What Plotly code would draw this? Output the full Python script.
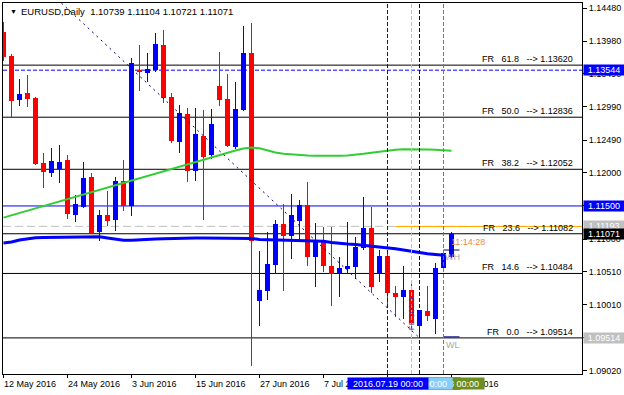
import plotly.graph_objects as go

# ---------------- data ----------------
idx = list(range(57))
tick_idx = [0, 8, 16, 24, 32, 40, 48, 56]
tick_labels = ["12 May 2016", "24 May 2016", "3 Jun 2016", "15 Jun 2016",
               "27 Jun 2016", "7 Jul 2016", "19 Jul 2016", "29 Jul 2016"]

opens = [1.14114, 1.13757, 1.13095, 1.13200, 1.13130, 1.12147, 1.12001, 1.12057, 1.12192, 1.11364,
         1.11484, 1.11936, 1.11108, 1.11364, 1.11289, 1.11876, 1.11500, 1.13547, 1.13502, 1.13542,
         1.13919, 1.13136, 1.12467, 1.12880, 1.12031, 1.12558, 1.12263, 1.13306, 1.13110, 1.12392,
         1.12945, 1.13807, 1.10074, 1.10225, 1.10611, 1.11229, 1.11052, 1.11274, 1.11515, 1.10736,
         1.10988, 1.10596, 1.10476, 1.10551, 1.10586, 1.10867, 1.11173, 1.10476, 1.10747, 1.10185,
         1.10125, 1.10235, 1.09698, 1.09919, 1.09799, 1.10561, 1.10739]
highs = [1.14274, 1.13788, 1.13411, 1.13471, 1.13145, 1.12297, 1.12373, 1.12418, 1.12267, 1.11665,
         1.12162, 1.11996, 1.11439, 1.11725, 1.11936, 1.12192, 1.13727, 1.13923, 1.13803, 1.14108,
         1.14149, 1.13200, 1.13015, 1.12975, 1.12975, 1.12945, 1.12964, 1.13822, 1.13487, 1.13366,
         1.14209, 1.14259, 1.10822, 1.11108, 1.11289, 1.11530, 1.11680, 1.11590, 1.11861, 1.11248,
         1.11179, 1.11179, 1.10732, 1.11259, 1.11028, 1.11635, 1.11484, 1.10837, 1.10777, 1.10295,
         1.10596, 1.10360, 1.09934, 1.10295, 1.10641, 1.10837, 1.11104]
lows = [1.13687, 1.12820, 1.13005, 1.12994, 1.12117, 1.11775, 1.11941, 1.11846, 1.11304, 1.11263,
        1.11465, 1.11078, 1.10973, 1.11198, 1.11123, 1.11424, 1.11349, 1.13231, 1.13366, 1.13521,
        1.13045, 1.12443, 1.12302, 1.11865, 1.11880, 1.11289, 1.12203, 1.13005, 1.12388, 1.12362,
        1.12930, 1.09096, 1.09698, 1.10085, 1.10476, 1.10225, 1.10702, 1.10988, 1.10601, 1.10276,
        1.10511, 1.09999, 1.10130, 1.10476, 1.10401, 1.10837, 1.10194, 1.10356, 1.09984, 1.09830,
        1.09794, 1.09633, 1.09514, 1.09773, 1.09573, 1.10536, 1.10721]
closes = [1.13747, 1.13085, 1.13185, 1.13110, 1.12132, 1.12011, 1.12177, 1.12162, 1.11384, 1.11534,
          1.11921, 1.11093, 1.11364, 1.11274, 1.11876, 1.11500, 1.13652, 1.13517, 1.13562, 1.13943,
          1.13130, 1.12482, 1.12895, 1.12031, 1.12579, 1.12233, 1.12734, 1.13100, 1.12398, 1.12960,
          1.13807, 1.10977, 1.10235, 1.10626, 1.11229, 1.11052, 1.11364, 1.11515, 1.10736, 1.10988,
          1.10601, 1.10476, 1.10566, 1.10596, 1.10882, 1.11173, 1.10285, 1.10747, 1.10185, 1.10125,
          1.10235, 1.09743, 1.09934, 1.09848, 1.10566, 1.10792, 1.11071]

ma_green = [1.11325, 1.11360, 1.11394, 1.11430, 1.11465, 1.11500, 1.11534, 1.11570, 1.11605, 1.11640,
            1.11674, 1.11710, 1.11745, 1.11780, 1.11816, 1.11850, 1.11885, 1.11920, 1.11954, 1.11989,
            1.12023, 1.12058, 1.12093, 1.12127, 1.12162, 1.12196, 1.12231, 1.12266, 1.12300, 1.12335,
            1.12365, 1.12380, 1.12368, 1.12335, 1.12305, 1.12285, 1.12275, 1.12267, 1.12261, 1.12257,
            1.12255, 1.12255, 1.12257, 1.12261, 1.12270, 1.12285, 1.12302, 1.12318, 1.12332, 1.12347,
            1.12353, 1.12355, 1.12353, 1.12350, 1.12346, 1.12339, 1.12330]
ma_blue = [1.10943, 1.10958, 1.10988, 1.11010, 1.11022, 1.11025, 1.11028, 1.11031, 1.11033, 1.11036,
           1.11037, 1.11037, 1.11037, 1.11018, 1.10995, 1.10983, 1.10983, 1.10992, 1.11000, 1.11003,
           1.11007, 1.11012, 1.11016, 1.11018, 1.11018, 1.11018, 1.11018, 1.11018, 1.11018, 1.11018,
           1.11018, 1.11010, 1.10995, 1.10992, 1.10991, 1.10988, 1.10988, 1.10983, 1.10980, 1.10975,
           1.10968, 1.10950, 1.10935, 1.10927, 1.10920, 1.10909, 1.10897, 1.10882, 1.10870, 1.10855,
           1.10837, 1.10814, 1.10799, 1.10780, 1.10766, 1.10757]

fr_levels = [61.8, 50.0, 38.2, 23.6, 14.6, 0.0]
fr_values = [1.13620, 1.12836, 1.12052, 1.11082, 1.10484, 1.09514]
fib_anchor_idx = [-7, 52]
fib_anchor_val = [1.16158, 1.09514]

y_tick_vals = [1.14480, 1.13980, 1.13490, 1.12990, 1.12490, 1.12000,
               1.11500, 1.11000, 1.10510, 1.10010, 1.09520, 1.09020]
y_tick_text = ["%.5f" % v for v in y_tick_vals]

hline_blue_dash = 1.13544
hline_blue = 1.11500
hline_gray = 1.11193
orange_line = (49, 1.11190)
bid = 1.11071
week_high = 1.10837
week_low = 1.09530

vlines = [(48, "#0000FF", "2016.07.19 00:00"),
          (51, "#87CEFA", "2016.07.22 00:00"),
          (52, "#000080", "2016.07.25 00:00"),
          (55, "#6B8E23", "2016.07.28 00:00")]

# ---------------- figure ----------------
FONT = "Liberation Sans, Arial, sans-serif"
BLUE, RED = "#0000FF", "#FF0000"
colors = [BLUE if c >= o else RED for o, c in zip(opens, closes)]
MINH = 0.00015

fig = go.Figure()

# wicks
fig.add_trace(go.Bar(x=idx, base=lows, y=[h - l for h, l in zip(highs, lows)],
                     width=0.125, marker=dict(color=colors, line=dict(width=0)),
                     hoverinfo="skip", showlegend=False))
# bodies
fig.add_trace(go.Bar(x=idx, base=[min(o, c) for o, c in zip(opens, closes)],
                     y=[max(abs(c - o), MINH) for o, c in zip(opens, closes)],
                     width=0.625, marker=dict(color=colors, line=dict(width=0)),
                     hoverinfo="skip", showlegend=False))

# moving averages
fig.add_trace(go.Scatter(x=idx[:len(ma_green)], y=ma_green, mode="lines",
                         line=dict(color="#32CD32", width=2), hoverinfo="skip", showlegend=False))
fig.add_trace(go.Scatter(x=idx[:len(ma_blue)], y=ma_blue, mode="lines",
                         line=dict(color=BLUE, width=3), hoverinfo="skip", showlegend=False))

# fibo diagonal
fig.add_trace(go.Scatter(x=fib_anchor_idx, y=fib_anchor_val, mode="lines",
                         line=dict(color="#000080", width=1, dash="2px,4px"),
                         hoverinfo="skip", showlegend=False))

shapes = []
# horizontal lines (below candles)
for v in fr_values:
    shapes.append(dict(type="line", xref="paper", x0=0, x1=1, yref="y", y0=v, y1=v,
                       line=dict(color="black", width=1), layer="below"))
shapes.append(dict(type="line", xref="paper", x0=0, x1=1, yref="y", y0=bid, y1=bid,
                   line=dict(color="#C0C0C0", width=1), layer="below"))
shapes.append(dict(type="line", xref="paper", x0=0, x1=1, yref="y", y0=hline_blue_dash, y1=hline_blue_dash,
                   line=dict(color=BLUE, width=1, dash="4px,2px"), layer="below"))
shapes.append(dict(type="line", xref="paper", x0=0, x1=1, yref="y", y0=hline_blue, y1=hline_blue,
                   line=dict(color=BLUE, width=1), layer="below"))
shapes.append(dict(type="line", xref="paper", x0=0, x1=1, yref="y", y0=hline_gray, y1=hline_gray,
                   line=dict(color="#C0C0C0", width=1, dash="8px,4px"), layer="below"))
shapes.append(dict(type="line", xref="x", x0=orange_line[0], x1=80, yref="y",
                   y0=orange_line[1], y1=orange_line[1],
                   line=dict(color="#FFA500", width=1), layer="below"))
# week high / low markers
for v in (week_high, week_low):
    shapes.append(dict(type="line", xref="x", x0=55, x1=57, yref="y", y0=v, y1=v,
                       line=dict(color="#000080", width=1), layer="above"))
# vertical dashed lines
for xi, col, _ in vlines:
    shapes.append(dict(type="line", xref="x", x0=xi, x1=xi, yref="paper", y0=0, y1=1,
                       line=dict(color=col, width=1, dash="4px,2px"), layer="above"))

ann = []
# title
ann.append(dict(xref="paper", yref="paper", x=0, y=1, xanchor="left", yanchor="middle",
                xshift=5, yshift=-8, text="▼", showarrow=False,
                font=dict(family=FONT, size=7, color="black")))
ann.append(dict(xref="paper", yref="paper", x=0, y=1, xanchor="left", yanchor="middle",
                xshift=16, yshift=-8,
                text="EURUSD,Daily\u00a0\u00a01.10739 1.11104 1.10721 1.11071", showarrow=False,
                font=dict(family=FONT, size=9.5, color="black")))
# fibo labels
for lvl, v in zip(fr_levels, fr_values):
    ann.append(dict(xref="paper", yref="y", x=1, y=v, xanchor="right", yanchor="bottom",
                    xshift=-7, yshift=-1,
                    text="FR\u00a0\u00a0\u00a0%.1f\u00a0\u00a0\u00a0-->\u00a0%.5f" % (lvl, v),
                    showarrow=False, font=dict(family=FONT, size=9, color="black")))
# texts near last bar
ann.append(dict(xref="x", yref="y", x=56, y=bid, xanchor="left", yanchor="top",
                xshift=-3, yshift=-1, text="11:14:28", showarrow=False,
                font=dict(family=FONT, size=9, color="#F0883C")))
ann.append(dict(xref="x", yref="y", x=55, y=week_high, xanchor="left", yanchor="top",
                xshift=-1, yshift=0, text="WH", showarrow=False,
                font=dict(family=FONT, size=9, color="#A9A9A9")))
ann.append(dict(xref="x", yref="y", x=55, y=week_low, xanchor="left", yanchor="top",
                xshift=0, yshift=-1, text="WL", showarrow=False,
                font=dict(family=FONT, size=9, color="#A9A9A9")))
ann.append(dict(xref="x", yref="y", x=51, y=1.0960, xanchor="center", yanchor="bottom",
                text="FE 100.0", textangle=-90, showarrow=False,
                font=dict(family=FONT, size=8, color="#3030A0")))
# x date labels (left aligned at ticks)
for xi, lab in zip(tick_idx, tick_labels):
    ann.append(dict(xref="x", yref="paper", x=xi, y=0, xanchor="left", yanchor="top",
                    xshift=-2, yshift=-3, text=lab, showarrow=False,
                    font=dict(family=FONT, size=9, color="black")))
# vertical line time boxes (order: navy, olive, light blue, blue)
for k in (2, 3, 1, 0):
    xi, col, lab = vlines[k]
    ann.append(dict(xref="x", yref="paper", x=xi, y=0, xanchor="center", yanchor="top",
                    yshift=-3, text=lab, showarrow=False, width=78, height=9, borderpad=1,
                    bgcolor=col, font=dict(family=FONT, size=9, color="white")))
# right axis price boxes
for v, col in ((hline_blue_dash, BLUE), (hline_blue, BLUE), (hline_gray, "#C0C0C0"),
               (bid, "black"), (fr_values[-1], "#C0C0C0")):
    ann.append(dict(xref="paper", yref="y", x=1, y=v, xanchor="left", yanchor="middle",
                    xshift=1, text="%.5f" % v, showarrow=False, width=38, height=8, borderpad=1,
                    bgcolor=col, font=dict(family=FONT, size=9, color="white")))

fig.update_layout(
    width=624, height=395,
    margin=dict(l=3, r=42, t=3, b=21),
    paper_bgcolor="white", plot_bgcolor="white",
    barmode="overlay", bargap=0,
    showlegend=False,
    shapes=shapes, annotations=ann,
    font=dict(family=FONT, size=9, color="black"),
    xaxis=dict(range=[-0.0625, 72.3125], tickvals=tick_idx, showticklabels=False,
               ticks="outside", ticklen=3, tickcolor="black", tickwidth=1,
               showgrid=False, zeroline=False, showline=True, linecolor="black",
               linewidth=1, mirror=True, fixedrange=True),
    yaxis=dict(range=[1.089705, 1.145553], side="right", tickvals=y_tick_vals,
               ticktext=y_tick_text, ticks="outside", ticklen=4, tickcolor="black",
               tickfont=dict(family=FONT, size=9, color="black"),
               showgrid=False, zeroline=False, showline=True, linecolor="black",
               linewidth=1, mirror=True, fixedrange=True),
)

fig.write_html("out.html", config={"displayModeBar": False},
               post_script="document.body.style.margin='0';document.body.style.overflow='hidden';")
